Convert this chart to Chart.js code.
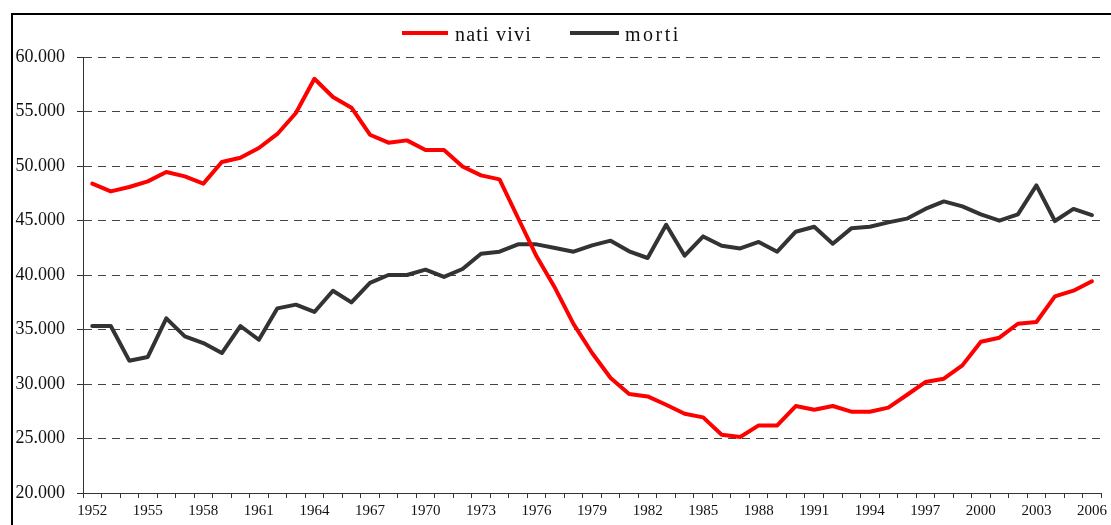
<!DOCTYPE html>
<html>
<head>
<meta charset="utf-8">
<script src="https://cdn.jsdelivr.net/npm/chart.js@4.4.1/dist/chart.umd.min.js"></script>
<style>
  html, body { margin: 0; padding: 0; background: #fff; }
  body { width: 1111px; height: 525px; position: relative; overflow: hidden; }
  #frame { position: absolute; left: 11px; top: 13px; width: 1200px; height: 600px;
           border-left: 2px solid #000; border-top: 2px solid #000; }
  #wrap { position: absolute; left: 0; top: 0; width: 1111px; height: 525px; }
</style>
</head>
<body>
<div id="frame"></div>
<div id="wrap"><canvas id="c" width="1111" height="525"></canvas></div>
<script>
const years = ['1952','1953','1954','1955','1956','1957','1958','1959','1960','1961','1962','1963','1964','1965','1966','1967','1968','1969','1970','1971','1972','1973','1974','1975','1976','1977','1978','1979','1980','1981','1982','1983','1984','1985','1986','1987','1988','1989','1990','1991','1992','1993','1994','1995','1996','1997','1998','1999','2000','2001','2002','2003','2004','2005','2006'];
const tickYears = ['1952','1955','1958','1961','1964','1967','1970','1973','1976','1979','1982','1985','1988','1991','1994','1997','2000','2003','2006'];
const natiVivi = [48380,47670,48070,48590,49450,49050,48380,50370,50760,51650,52940,54860,58000,56330,55350,52870,52140,52350,51470,51470,49960,49140,48770,45230,41710,38800,35500,32840,30550,29080,28860,28100,27270,26940,25350,25140,26200,26200,27980,27640,27980,27460,27460,27830,28990,30180,30490,31710,33880,34250,35530,35690,38040,38560,39420];
const morti = [35320,35320,32140,32480,36020,34370,33760,32840,35320,34060,36940,37280,36610,38560,37490,39270,40000,40000,40490,39820,40550,41950,42140,42810,42810,42480,42140,42720,43150,42170,41560,44610,41770,43540,42690,42440,43030,42140,43970,44430,42870,44280,44430,44830,45170,46060,46750,46290,45560,44980,45560,48220,44950,46060,45500];
const seriesNames = ['nati vivi', 'morti'];
const seriesColors = ['#ff0000', '#333333'];
const yMin = 20000, yMax = 60000, yStep = 5000;

const SERIF = '"Liberation Serif", "DejaVu Serif", serif';

const legendPlugin = {
  id: 'customLegend',
  afterDraw(chart) {
    const ctx = chart.ctx;
    const pos = [{x0: 402, x1: 448, tx: 455}, {x0: 570, x1: 619, tx: 625}];
    ctx.save();
    chart.data.datasets.forEach((ds, i) => {
      const p = pos[i];
      ctx.strokeStyle = ds.borderColor;
      ctx.lineWidth = 4;
      ctx.lineCap = 'butt';
      ctx.beginPath();
      ctx.moveTo(p.x0, 33);
      ctx.lineTo(p.x1, 33);
      ctx.stroke();
      ctx.fillStyle = '#111';
      ctx.font = '20px ' + SERIF;
      try { ctx.letterSpacing = (i === 0 ? '1.2px' : '2.5px'); } catch (e) {}
      ctx.textBaseline = 'alphabetic';
      ctx.textAlign = 'left';
      ctx.fillText(ds.label, p.tx, 41);
    });
    ctx.restore();
  }
};

new Chart(document.getElementById('c'), {
  type: 'line',
  data: {
    labels: years,
    datasets: [
      { label: seriesNames[0], data: natiVivi, borderColor: seriesColors[0], backgroundColor: seriesColors[0],
        borderWidth: 4, pointRadius: 0, tension: 0, borderJoinStyle: 'round', borderCapStyle: 'round' },
      { label: seriesNames[1], data: morti, borderColor: seriesColors[1], backgroundColor: seriesColors[1],
        borderWidth: 4, pointRadius: 0, tension: 0, borderJoinStyle: 'round', borderCapStyle: 'round' }
    ]
  },
  options: {
    responsive: false,
    animation: false,
    devicePixelRatio: 1,
    layout: { padding: { top: 57, right: 6, bottom: 0, left: 0 } },
    plugins: { legend: { display: false }, tooltip: { enabled: false }, title: { display: false } },
    scales: {
      x: {
        offset: true,
        grid: { offset: true, drawOnChartArea: false, drawTicks: true, tickLength: 5, tickColor: '#333', tickWidth: 1, color: '#333' },
        border: { display: true, color: '#333', width: 1 },
        ticks: {
          autoSkip: false, maxRotation: 0, minRotation: 0, padding: 4, color: '#111',
          font: { family: SERIF, size: 15 },
          callback: function(v, i) { const l = this.getLabelForValue(v); return tickYears.includes(l) ? l : ''; }
        },
        afterFit(scale) { scale.height = 32; }
      },
      y: {
        min: yMin, max: yMax,
        grid: { color: '#444', lineWidth: 1, drawTicks: true, tickLength: 6, tickColor: '#333', tickBorderDash: [] },
        border: { display: true, color: '#333', width: 1, dash: [8, 6] },
        ticks: {
          stepSize: yStep, padding: 12, color: '#111',
          font: { family: SERIF, size: 18 },
          callback: v => v.toLocaleString('it-IT', { minimumFractionDigits: 0 }).replace(/\s/g, '.').replace(/^(\d{2})(\d{3})$/, '$1.$2')
        },
        afterFit(scale) { scale.width = 83; }
      }
    }
  },
  plugins: [legendPlugin]
});
</script>
</body>
</html>
